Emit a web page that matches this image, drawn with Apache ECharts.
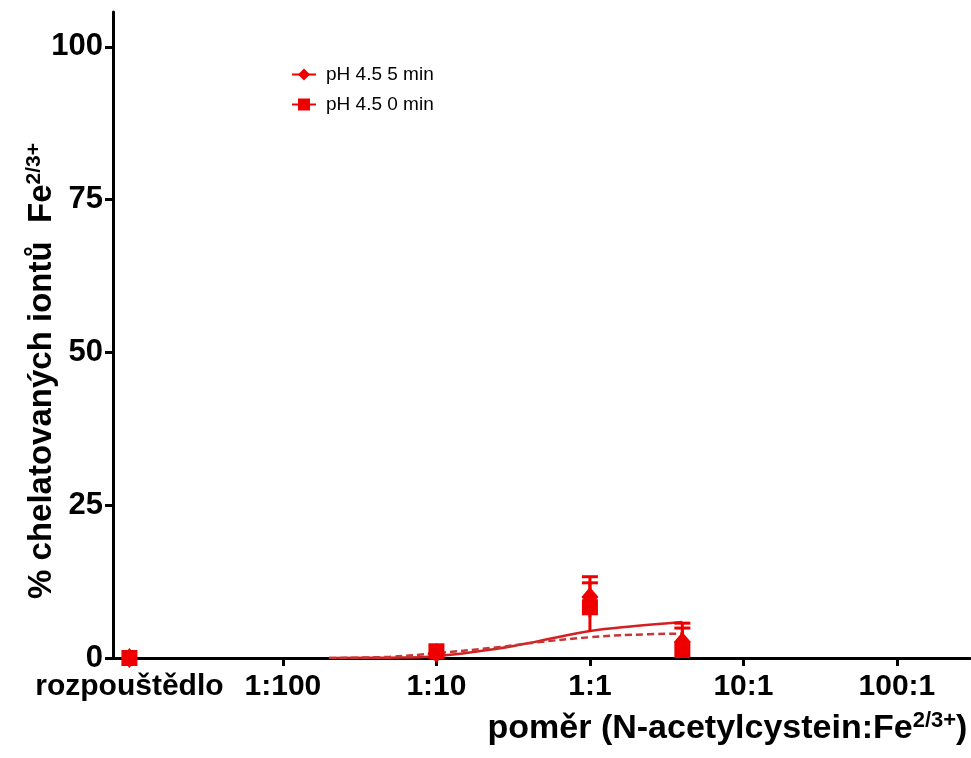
<!DOCTYPE html>
<html>
<head>
<meta charset="utf-8">
<script src="https://cdn.jsdelivr.net/npm/echarts@6/dist/echarts.min.js"></script>
<style>html,body{margin:0;padding:0;background:#fff}#c{width:971px;height:758px}</style>
</head>
<body>
<div id="c"></div>
<script>
// ---- data ----
var xTickValues = [0.001, 0.01, 0.1, 1, 10, 100];
var xTickLabels = ['rozpouštědlo', '1:100', '1:10', '1:1', '10:1', '100:1'];
var yTickValues = [0, 25, 50, 75, 100];

var ratios = [0.001, 0.1, 1, 4];
var min5Values = [0, 0.8, 10.0, 2.6];
var min5Err = [0, 0, 3.3, 3.1];
var min0Values = [0, 1.1, 8.3, 1.3];
var min0Err = [0, 0, 4.0, 3.6];

var fit5X = [0.02, 0.05, 0.1, 0.26, 0.43, 1, 1.9, 4];
var fit5Y = [0.0, 0.05, 0.3, 1.6, 2.6, 4.4, 5.2, 5.9];
var fit0X = [0.02, 0.05, 0.1, 0.26, 0.43, 1, 1.9, 4];
var fit0Y = [0.0, 0.2, 0.8, 1.8, 2.5, 3.4, 3.8, 4.0];

// ---- build ----
function pairs(xs, ys) { return xs.map(function (x, i) { return [x, ys[i]]; }); }
function errData(xs, ys, es) { return xs.map(function (x, i) { return [x, ys[i] - es[i], ys[i] + es[i]]; }); }

var RED = '#ee0000';
var FONT = '"Liberation Sans", Arial, sans-serif';

function errRender(params, api) {
  var x = api.value(0);
  var lo = Math.max(api.value(1), 0);
  var hi = api.value(2);
  if (api.value(2) - api.value(1) <= 0) return null;
  var p1 = api.coord([x, lo]);
  var p2 = api.coord([x, hi]);
  var w = 8;
  var st = { stroke: RED, lineWidth: 3 };
  return {
    type: 'group',
    children: [
      { type: 'line', shape: { x1: p1[0], y1: p1[1], x2: p2[0], y2: p2[1] }, style: st },
      { type: 'line', shape: { x1: p2[0] - w, y1: p2[1], x2: p2[0] + w, y2: p2[1] }, style: st }
    ]
  };
}

var chart = echarts.init(document.getElementById('c'));
chart.setOption({
  animation: false,
  backgroundColor: '#fff',
  grid: { left: 113, right: 1, top: 12, bottom: 100, containLabel: false, outerBoundsMode: 'none' },
  legend: {
    orient: 'vertical',
    left: 286, top: 60,
    itemWidth: 24, itemHeight: 15, itemGap: 11,
    textStyle: { fontSize: 19, fontFamily: FONT, color: '#000', padding: [0, 0, 0, 5] },
    lineStyle: { opacity: 1, width: 2, color: RED },
    data: ['pH 4.5 5 min', 'pH 4.5 0 min']
  },
  xAxis: {
    type: 'log',
    logBase: 10,
    min: Math.pow(10, -3.107),
    max: Math.pow(10, 2.476),
    splitLine: { show: false },
    axisLine: { show: true, lineStyle: { color: '#000', width: 3 } },
    axisTick: { show: true, length: 8, lineStyle: { color: '#000', width: 3 }, customValues: xTickValues },
    axisLabel: {
      customValues: xTickValues,
      margin: 14,
      fontSize: 30, fontWeight: 'bold', fontFamily: FONT, color: '#000',
      formatter: function (v) {
        var idx = xTickValues.findIndex(function (t) { return Math.abs(Math.log10(t) - Math.log10(v)) < 0.01; });
        return idx >= 0 ? xTickLabels[idx] : '';
      }
    },
    name: 'poměr (N-acetylcystein:Fe{sup|2/3+})',
    nameLocation: 'middle',
    nameMoveOverlap: false,
    nameGap: 52,
    nameTextStyle: {
      fontSize: 34, fontWeight: 'bold', fontFamily: FONT, color: '#000',
      padding: [0, 0, 0, 372],
      rich: { sup: { fontSize: 22, fontWeight: 'bold', fontFamily: FONT, color: '#000', verticalAlign: 'top', padding: [0, 0, 16, 0] } }
    }
  },
  yAxis: {
    type: 'value',
    min: 0, max: 105.7,
    splitLine: { show: false },
    axisLine: { show: true, lineStyle: { color: '#000', width: 3 } },
    axisTick: { show: true, length: 8, lineStyle: { color: '#000', width: 3 }, customValues: yTickValues },
    axisLabel: {
      customValues: yTickValues,
      margin: 10,
      fontSize: 31, fontWeight: 'bold', fontFamily: FONT, color: '#000'
    },
    name: '% chelatovaných iontů  Fe{sup|2/3+}',
    nameLocation: 'middle',
    nameMoveOverlap: false,
    nameGap: 53,
    nameTextStyle: {
      fontSize: 33, fontWeight: 'bold', fontFamily: FONT, color: '#000',
      padding: [0, 72, 0, 0],
      rich: { sup: { fontSize: 21, fontWeight: 'bold', fontFamily: FONT, color: '#000', verticalAlign: 'top', padding: [0, 0, 15, 0] } }
    }
  },
  series: [
    {
      name: 'fit5', type: 'line', smooth: 0.4, showSymbol: false, symbol: 'none',
      data: pairs(fit5X, fit5Y),
      lineStyle: { color: '#d42020', width: 2.5 }, z: 2
    },
    {
      name: 'fit0', type: 'line', smooth: 0.4, showSymbol: false, symbol: 'none',
      data: pairs(fit0X, fit0Y),
      lineStyle: { color: '#c83535', width: 2.5, type: [7, 4] }, z: 2
    },
    {
      name: 'err5', type: 'custom', renderItem: errRender, data: errData(ratios, min5Values, min5Err), z: 3, clip: true
    },
    {
      name: 'err0', type: 'custom', renderItem: errRender, data: errData(ratios, min0Values, min0Err), z: 3, clip: true
    },
    {
      name: 'pH 4.5 5 min', type: 'line', data: pairs(ratios, min5Values),
      symbol: 'diamond', symbolSize: [17, 20], showSymbol: true,
      itemStyle: { color: RED },
      lineStyle: { opacity: 0, color: RED }, z: 5
    },
    {
      name: 'pH 4.5 0 min', type: 'line', data: pairs(ratios, min0Values),
      symbol: 'rect', symbolSize: 16, showSymbol: true,
      itemStyle: { color: RED },
      lineStyle: { opacity: 0, color: RED }, z: 6
    }
  ]
});
</script>
</body>
</html>
